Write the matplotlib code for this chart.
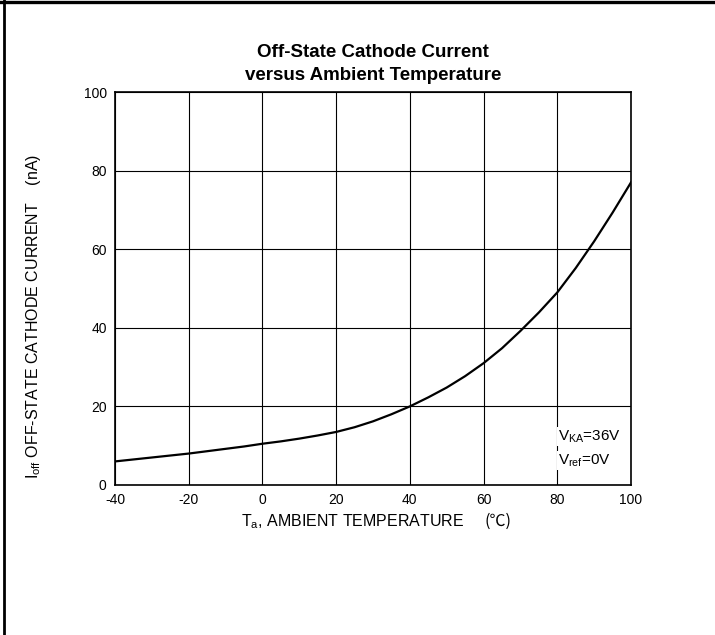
import matplotlib
matplotlib.use("Agg")
import matplotlib.pyplot as plt
from matplotlib.lines import Line2D

# Off-state cathode current vs ambient temperature
temp_c = [-40, -35, -30, -25, -20, -15, -10, -5, 0, 5, 10, 15, 20, 25, 30,
          35, 40, 45, 50, 55, 60, 65, 70, 75, 80, 85, 90, 95, 100]
i_off_na = [6.0, 6.5, 7.0, 7.5, 8.0, 8.6, 9.2, 9.8, 10.5, 11.1, 11.8, 12.6, 13.5, 14.7, 16.2,
            18.0, 20.0, 22.3, 24.8, 27.7, 31.0, 34.8, 39.2, 43.9, 49.0, 55.2, 62.0, 69.3, 77.0]

x_ticks = [-40, -20, 0, 20, 40, 60, 80, 100]
y_ticks = [0, 20, 40, 60, 80, 100]

plt.rcParams['font.family'] = ['Liberation Sans', 'Noto Sans CJK SC', 'DejaVu Sans']
plt.rcParams['mathtext.fontset'] = 'custom'
plt.rcParams['mathtext.rm'] = 'Liberation Sans'
plt.rcParams['mathtext.it'] = 'Liberation Sans:italic'
plt.rcParams['axes.unicode_minus'] = False

fig = plt.figure(figsize=(7.15, 6.35), dpi=100)
ax = fig.add_axes([115 / 715, 150 / 635, 516 / 715, 393 / 635])

ax.plot(temp_c, i_off_na, color='black', lw=1.6)

ax.set_xlim(-40, 100)
ax.set_ylim(0, 100)
ax.set_xticks(x_ticks)
ax.set_yticks(y_ticks)
ax.tick_params(length=0, labelsize=10, pad=6)
ax.grid(True, color='black', lw=0.8)
for s in ax.spines.values():
    s.set_linewidth(1.2)

ax.set_title('Off-State Cathode Current\nversus Ambient Temperature',
             fontsize=13.5, fontweight='bold', pad=9, linespacing=1.45)

ax.text(0.46, -0.093, r'T$\mathrm{_a}$, AMBIENT TEMPERATURE', transform=ax.transAxes,
        fontsize=11.5, ha='center', va='center')
ax.text(0.743, -0.093, '(℃)', transform=ax.transAxes, fontsize=11.5,
        ha='center', va='center', family=['Noto Sans CJK SC', 'DejaVu Sans'])
ax.set_ylabel(r'I$\mathrm{_{off}}$ OFF-STATE CATHODE CURRENT    (nA)', fontsize=11.5)
ax.yaxis.set_label_coords(-0.14, 0.43)

ax.text(80.2, 12.3, r'V$\mathrm{_{KA}}$=36V', fontsize=11, va='center', ha='left',
        bbox=dict(facecolor='white', edgecolor='none', pad=1))
ax.text(80.2, 6.2, r'V$\mathrm{_{ref}}$=0V', fontsize=11, va='center', ha='left',
        bbox=dict(facecolor='white', edgecolor='none', pad=1))

# page frame (top and left edges)
fig.add_artist(Line2D([0, 1], [1 - 1.5 / 635, 1 - 1.5 / 635], color='black', lw=2.4))
fig.add_artist(Line2D([4 / 715, 4 / 715], [0, 1], color='black', lw=2.0))

fig.savefig('out.png', dpi=100)
